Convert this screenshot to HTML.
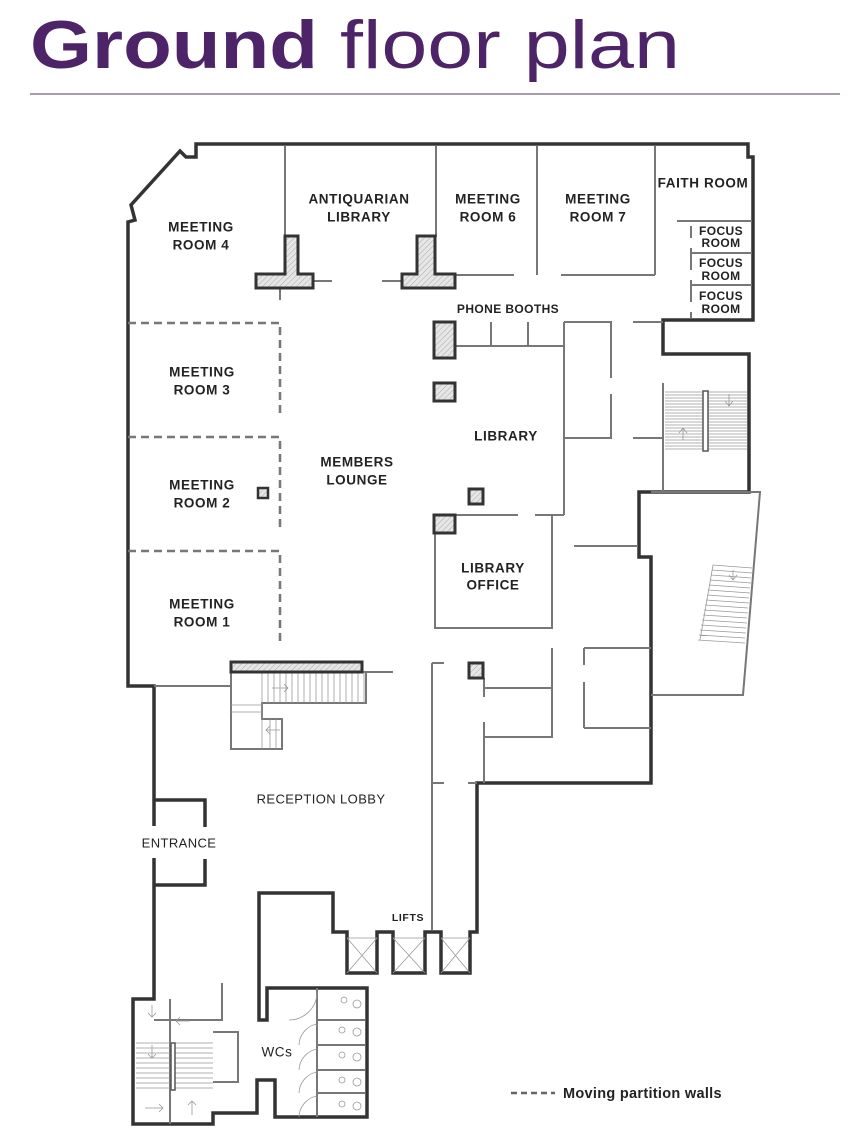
<!DOCTYPE html>
<html><head><meta charset="utf-8"><style>
body{margin:0;background:#fff;width:861px;height:1135px;overflow:hidden}
svg{display:block}
.t{font-family:"Liberation Sans",sans-serif;font-weight:bold;font-size:13.5px;fill:#222;text-anchor:middle;dominant-baseline:central;letter-spacing:0.6px}
.s{font-size:12px;letter-spacing:0.4px}
.W{fill:none;stroke:#333;stroke-width:3.5;stroke-linejoin:miter}
.w{fill:none;stroke:#777;stroke-width:2}
.l{fill:none;stroke:#999;stroke-width:0.8}
.d{fill:none;stroke:#777;stroke-width:2.5;stroke-dasharray:8 5}
.c{fill:url(#h);stroke:#333;stroke-width:3}
</style></head><body>
<svg width="861" height="1135" viewBox="0 0 861 1135" xmlns="http://www.w3.org/2000/svg">
<defs><pattern id="h" width="4" height="4" patternUnits="userSpaceOnUse" patternTransform="rotate(45)"><rect width="4" height="4" fill="#e6e6e6"/><line x1="0" y1="0" x2="0" y2="4" stroke="#aaa" stroke-width="1"/></pattern></defs>
<text x="30" y="68" font-family="Liberation Sans,sans-serif" font-size="68" font-weight="bold" fill="#4e2468" textLength="288" lengthAdjust="spacingAndGlyphs">Ground</text>
<text x="340" y="68" font-family="Liberation Sans,sans-serif" font-size="68" font-weight="normal" fill="#4e2468" textLength="340" lengthAdjust="spacingAndGlyphs">floor plan</text>
<line x1="30" y1="94" x2="840" y2="94" stroke="#8a7a94" stroke-width="1.6"/>

<!-- outer walls -->
<path class="W" d="M154,826 L154,686 L128,686 L128,222 L135,220 L131,205 L180,151 L186,157 L196,157 L196,144 L748,144 L748,157 L753,157 L753,320 L663,320 L663,354 L749,354 L749,492 L639,492 L639,557 L651,557 L651,783 L477,783 L477,932 L470,932 L470,973 L441,973 L441,932 L425,932 L425,973 L393,973 L393,932 L377,932 L377,973 L347,973 L347,932 L333,932 L333,893 L259,893 L259,1020 L267,1020 L267,988 L367,988 L367,1117 L275,1117 L275,1080 L257,1080 L257,1113 L213,1113 L213,1124 L133,1124 L133,999 L154,999 L154,858"/>
<path class="W" d="M154,800 L205,800 L205,827 M205,859 L205,885 L154,885"/>
<g class="l"><path d="M347,938 L377,973 M377,938 L347,973 M347,938 L377,938 M393,938 L425,973 M425,938 L393,973 M393,938 L425,938 M441,938 L470,973 M470,938 L441,973 M441,938 L470,938"/></g>

<g class="w">
<path d="M285,146 V237 M436,146 V237 M537,146 V275 M655,146 V275 M313,281 H332 M382,281 H402 M280,288 V300 M455,275 H514 M561,275 H655 M677,221 H752 M691,226 V238 M691,248 V270 M691,280 V302 M691,312 V318 M691,253 H752 M691,285 H752"/>
<path d="M455,346 H564 M491,322 V346 M528,322 V346 M564,322 V515 M564,322 H611 V378 M611,394 V438 H564 M633,322 H663 M633,438 H663 M663,383 V491"/>
<path d="M455,515 H518 M535,515 H564 M552,515 V628 H435 V533 M574,546 H638"/>
<path d="M432,663 H444 M432,663 V930 M432,783 H444 M468,783 H477 M484,678 V697 M484,722 V783 M484,688 H552 M552,648 V737 H484 M584,648 V665 M584,682 V728 M584,648 H651 M584,728 H651"/>
<path d="M651,492 H760 L743,695 H651"/>
<path d="M154,686 H231 M362,672 H393 M231,672 V749 H282 V719 H262 V703 H366 V672"/>
<path d="M154,1020 H222 V983 M170,999 V1124 M213,1032 H238 V1082 H213 M317,988 V1117 M317,1020 H365 M317,1045 H365 M317,1070 H365 M317,1093 H365"/>
</g>
<g class="l">
<path d="M665,392 H747 M665,395 H747 M665,398 H747 M665,401 H747 M665,404 H747 M665,407 H747 M665,410 H747 M665,413 H747 M665,416 H747 M665,419 H747 M665,422 H747 M665,425 H747 M665,428 H747 M665,431 H747 M665,434 H747 M665,437 H747 M665,440 H747 M665,443 H747 M665,446 H747 M665,449 H747"/>
<path d="M713,565 L752,568 M712,570 L752,573 M711,575 L751,578 M710,580 L751,583 M709,585 L750,588 M708,590 L750,593 M707,595 L749,598 M706,600 L749,603 M705,605 L748,608 M704,610 L748,613 M703,615 L747,618 M702,620 L747,623 M701,625 L746,628 M700,630 L746,633 M699,635 L745,638 M698,640 L745,643 M713,565 L700,640"/>
<path d="M268,672 V703 M274,672 V703 M280,672 V703 M286,672 V703 M292,672 V703 M298,672 V703 M304,672 V703 M310,672 V703 M316,672 V703 M322,672 V703 M328,672 V703 M334,672 V703 M340,672 V703 M346,672 V703 M352,672 V703 M358,672 V703 M364,672 V703 M262,672 V749 M270,719 V749 M276,719 V749 M231,705 H262 M231,712 H262"/>
<path d="M136,1043 H213 M136,1048 H213 M136,1053 H213 M136,1058 H213 M136,1063 H213 M136,1068 H213 M136,1073 H213 M136,1078 H213 M136,1083 H213 M136,1088 H213"/>
<path d="M683,440 V428 M679,433 L683,428 L687,433 M729,394 V406 M725,401 L729,406 L733,401 M733,570 V580 M729,575 L733,580 L737,575 M272,688 H288 M284,684 L288,688 L284,692 M280,730 H266 M270,726 L266,730 L270,734 M152,1005 V1017 M148,1013 L152,1017 L156,1013 M190,1021 H176 M180,1017 L176,1021 L180,1025 M152,1045 V1058 M148,1054 L152,1058 L156,1054 M192,1115 V1101 M188,1105 L192,1101 L196,1105 M145,1108 H163 M159,1104 L163,1108 L159,1112"/>
<path d="M317,992 A28,28 0 0 1 289,1020 M317,1024 A22,22 0 0 0 299,1045 M317,1049 A22,22 0 0 0 299,1070 M317,1072 A22,22 0 0 0 299,1093 M317,1096 A22,22 0 0 0 299,1117"/>
<circle cx="344" cy="1000" r="3"/><circle cx="357" cy="1004" r="4"/><circle cx="342" cy="1030" r="3"/><circle cx="357" cy="1032" r="4"/><circle cx="342" cy="1055" r="3"/><circle cx="357" cy="1057" r="4"/><circle cx="342" cy="1080" r="3"/><circle cx="357" cy="1082" r="4"/><circle cx="342" cy="1104" r="3"/><circle cx="357" cy="1106" r="4"/>
</g>
<rect x="703" y="391" width="5" height="60" fill="#fff" stroke="#555" stroke-width="1.5"/>
<rect x="171" y="1043" width="4" height="47" fill="#fff" stroke="#555" stroke-width="1.5"/>

<path class="d" d="M128,323 H280 V415 M128,437 H280 V530 M128,551 H280 V643"/>

<path class="c" d="M285,236 H298 V274 H313 V288 H256 V274 H285 Z"/>
<path class="c" d="M417,236 H435 V274 H455 V288 H402 V274 H417 Z"/>
<rect class="c" x="434" y="322" width="21" height="36"/>
<rect class="c" x="434" y="383" width="21" height="18"/>
<rect class="c" x="469" y="489" width="14" height="15"/>
<rect class="c" x="434" y="515" width="21" height="18"/>
<rect class="c" x="469" y="663" width="14" height="15"/>
<rect class="c" x="258" y="488" width="10" height="10" style="stroke-width:2.5"/>
<rect class="c" x="231" y="662" width="131" height="10"/>

<text class="t" x="201" y="227">MEETING</text><text class="t" x="201" y="245">ROOM 4</text>
<text class="t" x="359" y="199">ANTIQUARIAN</text><text class="t" x="359" y="217">LIBRARY</text>
<text class="t" x="488" y="199">MEETING</text><text class="t" x="488" y="217">ROOM 6</text>
<text class="t" x="598" y="199">MEETING</text><text class="t" x="598" y="217">ROOM 7</text>
<text class="t" x="703" y="183">FAITH ROOM</text>
<text class="t s" x="721" y="231">FOCUS</text><text class="t s" x="721" y="243">ROOM</text>
<text class="t s" x="721" y="263">FOCUS</text><text class="t s" x="721" y="276">ROOM</text>
<text class="t s" x="721" y="296">FOCUS</text><text class="t s" x="721" y="309">ROOM</text>
<text class="t s" x="508" y="309">PHONE BOOTHS</text>
<text class="t" x="506" y="436">LIBRARY</text>
<text class="t" x="357" y="462">MEMBERS</text><text class="t" x="357" y="480">LOUNGE</text>
<text class="t" x="202" y="372">MEETING</text><text class="t" x="202" y="390">ROOM 3</text>
<text class="t" x="202" y="485">MEETING</text><text class="t" x="202" y="503">ROOM 2</text>
<text class="t" x="202" y="604">MEETING</text><text class="t" x="202" y="622">ROOM 1</text>
<text class="t" x="493" y="568">LIBRARY</text><text class="t" x="493" y="585">OFFICE</text>
<text class="t s" x="321" y="799" style="font-weight:normal;font-size:13px">RECEPTION LOBBY</text>
<text class="t s" x="179" y="843" style="font-weight:normal;font-size:13px">ENTRANCE</text>
<text class="t" x="408" y="918" style="font-size:10.5px">LIFTS</text>
<text class="t" x="277" y="1052" style="font-weight:normal">WCs</text>
<line x1="511" y1="1093" x2="555" y2="1093" stroke="#666" stroke-width="2.5" stroke-dasharray="6 4"/>
<text x="563" y="1098" font-family="Liberation Sans,sans-serif" font-weight="bold" font-size="14.5" fill="#222" letter-spacing="0.3">Moving partition walls</text>
</svg>
</body></html>
